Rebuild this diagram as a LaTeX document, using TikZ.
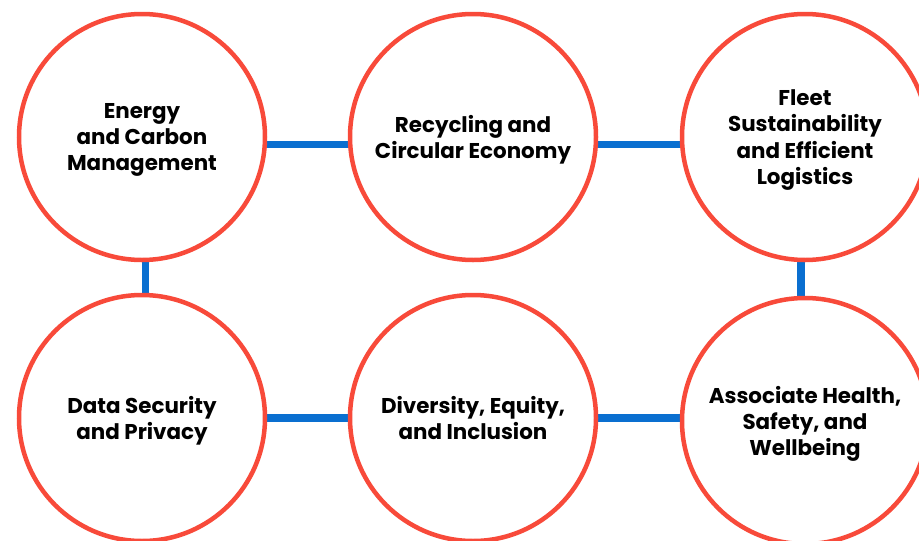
\documentclass[tikz,border=0pt]{standalone}
\usepackage{fontspec}
\setmainfont{Poppins}
\usetikzlibrary{backgrounds}

\definecolor{ringred}{HTML}{F84A3A}
\definecolor{linkblue}{HTML}{0A6FD0}

\begin{document}
\begin{tikzpicture}[x=1pt, y=-1pt,
	topic/.style={circle, draw=ringred, line width=4.5pt, fill=white, minimum size=246pt, inner sep=0pt, align=center, text depth=-3pt, font=\fontsize{21.4}{26.3}\selectfont\bfseries},
	link/.style={linkblue, line width=7.5pt}]
	%\draw[help lines] (0,0) grid (919,541);
	\useasboundingbox (0,0) rectangle (919,541);
	
	% obere Reihe
	\node [topic] (energy) at (142,137) {Energy\\and Carbon\\Management};
	\node [topic] (recycle) at (473,137) {Recycling and\\Circular Economy};
	\node [topic, text depth=-9pt] (fleet) at (805,137) {Fleet\\Sustainability\\and Efficient\\Logistics};
	
	% untere Reihe
	\node [topic] (data) at (142,418) {Data Security\\and Privacy};
	\node [topic] (diversity) at (473,418) {Diversity, Equity,\\and Inclusion};
	\node [topic] (health) at (805,421) {Associate Health,\\Safety, and\\Wellbeing};
	
	% Verbindungen hinter den Kreisen
	\begin{scope}[on background layer]
		\draw [link] ([yshift=-7.5pt]energy.east) -- ([yshift=-7.5pt]recycle.west);
		\draw [link] ([yshift=-7.5pt]recycle.east) -- ([yshift=-7.5pt]fleet.west);
		\draw [link] ([xshift=3.5pt]energy.south) -- ([xshift=3.5pt]data.north);	% links senkrecht
		\draw [link] ([xshift=-4pt]fleet.south) -- ([xshift=-4pt]health.north);	% rechts senkrecht
		\draw [link] (data.east) -- (diversity.west);
		\draw [link] (diversity.east) -- ([yshift=3pt]health.west);
	\end{scope}

\end{tikzpicture}
\end{document}
